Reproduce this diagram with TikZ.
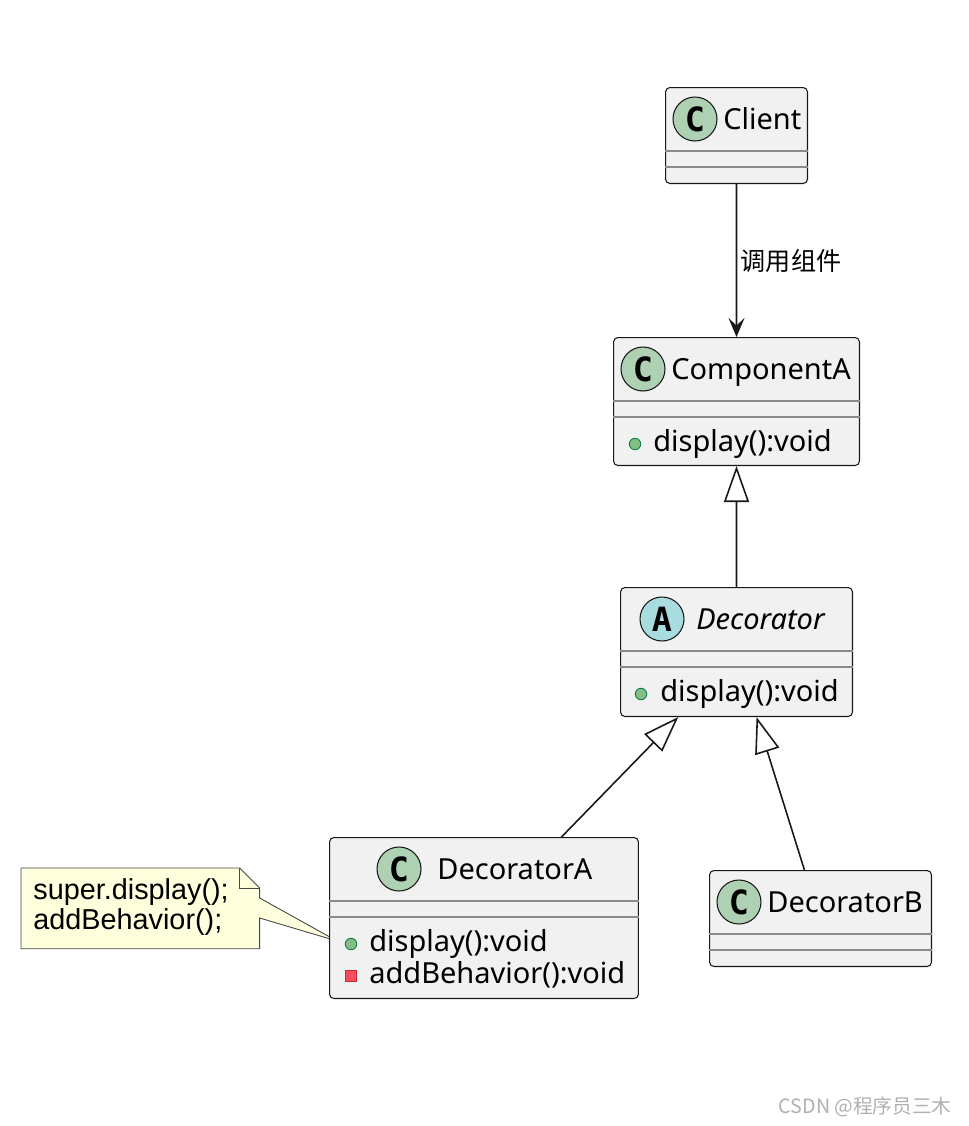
\documentclass[tikz,border=0pt]{standalone}
\usepackage{fontspec}
\setmainfont{Noto Sans}
\newfontfamily\cjkfont{Noto Sans CJK SC}
\newfontfamily\notefont{Liberation Sans}
\newfontfamily\badgefont{DejaVu Sans Mono}
\usepackage{xcolor}
\usetikzlibrary{arrows.meta, positioning, calc, backgrounds}
\definecolor{classbg}{HTML}{F1F1F1}
\definecolor{classline}{HTML}{181818}
\definecolor{sepline}{HTML}{8A8A8A}
\definecolor{cbadge}{HTML}{ADD1B2}
\definecolor{abadge}{HTML}{A9DCDF}
\definecolor{pubfill}{HTML}{84BE84}
\definecolor{publine}{HTML}{038048}
\definecolor{privfill}{HTML}{F24D5C}
\definecolor{privline}{HTML}{C82930}
\definecolor{notebg}{HTML}{FEFFDD}
\definecolor{wmark}{HTML}{B0B0B0}
\tikzset{
  classbox/.style={draw=classline, fill=classbg, rounded corners=2.5pt,
                   line width=0.6pt, anchor=north west, inner sep=0pt},
  badge/.style={circle, draw=classline, line width=0.6pt, minimum size=0.88cm,
                inner sep=0pt, font=\badgefont\bfseries\fontsize{19}{19}\selectfont},
  cname/.style={font=\fontsize{16.5}{20}\selectfont, inner sep=0pt, anchor=base west},
  member/.style={font=\fontsize{16.5}{20}\selectfont, inner sep=0pt, anchor=base west},
  sep/.style={draw=sepline, line width=0.8pt},
  pub/.style={circle, draw=publine, fill=pubfill, minimum size=0.23cm,
              inner sep=0pt, line width=0.5pt},
  priv/.style={rectangle, draw=privline, fill=privfill, minimum size=0.21cm,
               inner sep=0pt, line width=0.5pt},
  calls/.style={-{Stealth[length=3.8mm, width=3.2mm, inset=1.5mm]},
                line width=0.9pt, draw=classline},
  extends/.style={-{Triangle[open, length=7.2mm, width=5mm]},
                  line width=0.9pt, draw=classline},
  notebox/.style={anchor=north west, inner sep=0pt, minimum width=4.76cm,
                  minimum height=1.6cm},
  notetext/.style={font=\notefont\fontsize{16.4}{17}\selectfont, anchor=base west,
                   inner sep=0pt, align=left}
}

\begin{document}
\begin{tikzpicture}[x=0.02cm, y=-0.02cm]
  \useasboundingbox (0,0) rectangle (968,1126);

  % Client
  \node[classbox, minimum width=2.84cm, minimum height=1.92cm] (client) at (665,87) {};
  \node[badge, fill=cbadge] (clientC) at (695,119) {C};
  \node[cname] (clientN) at (723,129) {Client};
  \draw[sep] ($(client.north west)+(0,64)$) -- ($(client.north east)+(0,64)$);
  \draw[sep] ($(client.north west)+(0,80)$) -- ($(client.north east)+(0,80)$);

  % ComponentA
  \node[classbox, minimum width=4.92cm, minimum height=2.56cm] (compA) at (613,337) {};
  \node[badge, fill=cbadge] (compAC) at (643,369) {C};
  \node[cname] (compAN) at (671,379) {ComponentA};
  \draw[sep] ($(compA.north west)+(0,64)$) -- ($(compA.north east)+(0,64)$);
  \draw[sep] ($(compA.north west)+(0,80)$) -- ($(compA.north east)+(0,80)$);
  \node[pub] (compApub) at (635,444) {};
  \node[member] (compAM) at (653,451) {display():void};

  % Decorator (abstract)
  \node[classbox, minimum width=4.64cm, minimum height=2.58cm] (decor) at (620,587) {};
  \node[badge, fill=abadge] (decorA) at (662,619) {A};
  \node[cname, font=\fontsize{16.5}{20}\selectfont\itshape] (decorN) at (696,629) {Decorator};
  \draw[sep] ($(decor.north west)+(0,64)$) -- ($(decor.north east)+(0,64)$);
  \draw[sep] ($(decor.north west)+(0,80)$) -- ($(decor.north east)+(0,80)$);
  \node[pub] (decorpub) at (641,694) {};
  \node[member] (decorM) at (660,701) {display():void};

  % DecoratorA
  \node[classbox, minimum width=6.18cm, minimum height=3.22cm] (decA) at (329,837) {};
  \node[badge, fill=cbadge] (decAC) at (399,869) {C};
  \node[cname] (decAN) at (437,879) {DecoratorA};
  \draw[sep] ($(decA.north west)+(0,64)$) -- ($(decA.north east)+(0,64)$);
  \draw[sep] ($(decA.north west)+(0,80)$) -- ($(decA.north east)+(0,80)$);
  \node[pub] (decApub) at (351,944) {};
  \node[member] (decAM1) at (369,951) {display():void};
  \node[priv] (decApriv) at (351,976) {};
  \node[member] (decAM2) at (369,983) {addBehavior():void};

  % DecoratorB
  \node[classbox, minimum width=4.44cm, minimum height=1.92cm] (decB) at (709,870) {};
  \node[badge, fill=cbadge] (decBC) at (739,902) {C};
  \node[cname] (decBN) at (767,912) {DecoratorB};
  \draw[sep] ($(decB.north west)+(0,64)$) -- ($(decB.north east)+(0,64)$);
  \draw[sep] ($(decB.north west)+(0,80)$) -- ($(decB.north east)+(0,80)$);

  % Note
  \node[notebox] (note) at (21,868) {};
  \node[notetext] (noteT) at (33,929) {super.display();\\addBehavior();};
  \coordinate (notetip) at (337,941);
  \begin{scope}[on background layer]
    \filldraw[fill=notebg, draw=classline!80, line width=0.5pt]
      (note.north west) -- ($(note.north east)+(-20,0)$)
      -- ($(note.north east)+(0,20)$) -- ($(note.north east)+(0,30)$)
      -- (notetip) -- ($(note.north east)+(0,50)$)
      -- (note.south east) -- (note.south west) -- cycle;
    \draw[draw=classline!80, line width=0.5pt]
      ($(note.north east)+(-20,0)$) -- ($(note.north east)+(-20,20)$)
      -- ($(note.north east)+(0,20)$);
  \end{scope}

  % Arrows
  \draw[calls] (client.south) -- node[right, inner sep=2pt,
      font=\cjkfont\fontsize{14.3}{16}\selectfont] (callL) {调用组件} (compA.north);
  \draw[extends] (decor.north) -- (compA.south);
  \draw[extends] ($(decA.north west)!0.75!(decA.north east)$)
      -- ($(decor.south west)!0.25!(decor.south east)$);
  \draw[extends] ($(decB.north west)!0.428!(decB.north east)$)
      -- ($(decor.south west)!0.586!(decor.south east)$);

  % Watermark
  \node[font=\cjkfont\fontsize{11.2}{13}\selectfont, text=wmark, anchor=east,
        inner sep=0pt] (wm) at (952,1107) {CSDN @程序员三木};
\end{tikzpicture}
\end{document}
